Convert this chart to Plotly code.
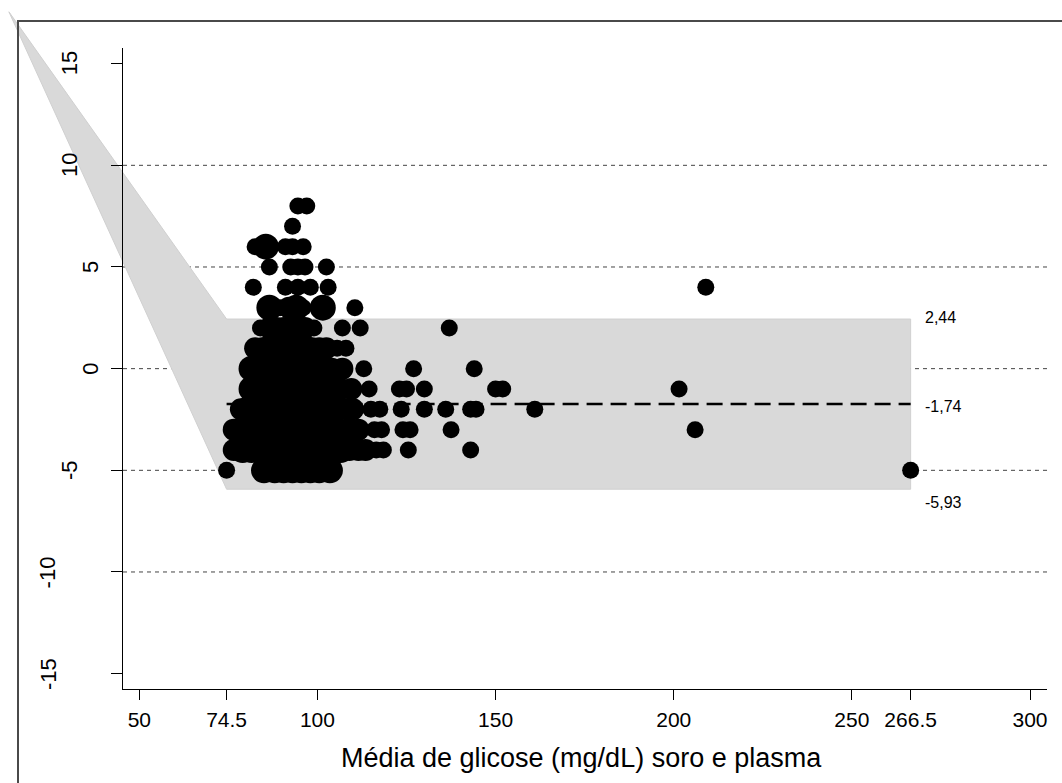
import plotly.graph_objects as go

W, H = 1062, 783

# ---------------- data ----------------
x_ticks = [50, 74.5, 100, 150, 200, 250, 266.5, 300]
x_tick_labels = ["50", "74.5", "100", "150", "200", "250", "266.5", "300"]
y_ticks = [-15, -10, -5, 0, 5, 10, 15]
y_tick_labels = ["-15", "-10", "-5", "0", "5", "10", "15"]
grid_y = [-10, -5, 0, 5, 10]

mean_diff = -1.74
loa_upper = 2.44
loa_lower = -5.93
x_min_mean = 74.5
x_max_mean = 266.5
wedge_apex = (13.4, 17.55)

# mean of serum/plasma glucose, difference, number of coincident observations
media = (
    [94.5, 97]
    + [93]
    + [82.5, 85.5, 91, 93, 96]
    + [86.5, 92.5, 94.5, 96.5, 102.5]
    + [82, 91, 94.5, 98, 103, 209]
    + [86.5, 89.5, 92, 94, 96, 101.5, 110.5]
    + [84, 86.5, 88.5, 90.5, 92.5, 94.5, 96.5, 99, 107, 112, 137]
    + [82.5, 84.5, 86.5, 88.5, 90.5, 92.5, 94.5, 96.5, 98.5, 100.5, 102.5, 105.5, 108]
    + [81.5, 84, 86.5, 89, 91.5, 94, 96.5, 99, 101.5, 104, 107, 113, 127, 144]
    + [81.5, 84, 86.5, 89, 91.5, 94, 96.5, 99, 101.5, 104, 106.5, 109.5, 114.5, 123, 125, 130, 150, 152, 201.5]
    + [78.5, 80.5, 83, 85.5, 88, 90.5, 93, 95.5, 98, 100.5, 103, 105.5, 108, 110, 115, 117.5, 123.5, 130, 136, 143, 144.5, 161]
    + [76.5, 79, 81.5, 84, 86.5, 89, 91.5, 94, 96.5, 99, 101.5, 104, 106.5, 109, 111.5, 116, 118, 124, 126, 137.5, 206]
    + [76.5, 79, 81.5, 84, 86.5, 89, 91.5, 94, 96.5, 99, 101.5, 104, 106.5, 109, 111.5, 113.5, 116.5, 118.5, 125.5, 143]
    + [74.5, 85, 88, 90.5, 93, 95.5, 98, 100.5, 103.5, 266.5]
)
diferenca = (
    [8, 8]
    + [7]
    + [6, 6, 6, 6, 6]
    + [5, 5, 5, 5, 5]
    + [4, 4, 4, 4, 4, 4]
    + [3, 3, 3, 3, 3, 3, 3]
    + [2, 2, 2, 2, 2, 2, 2, 2, 2, 2, 2]
    + [1, 1, 1, 1, 1, 1, 1, 1, 1, 1, 1, 1, 1]
    + [0, 0, 0, 0, 0, 0, 0, 0, 0, 0, 0, 0, 0, 0]
    + [-1, -1, -1, -1, -1, -1, -1, -1, -1, -1, -1, -1, -1, -1, -1, -1, -1, -1, -1]
    + [-2, -2, -2, -2, -2, -2, -2, -2, -2, -2, -2, -2, -2, -2, -2, -2, -2, -2, -2, -2, -2, -2]
    + [-3, -3, -3, -3, -3, -3, -3, -3, -3, -3, -3, -3, -3, -3, -3, -3, -3, -3, -3, -3, -3]
    + [-4, -4, -4, -4, -4, -4, -4, -4, -4, -4, -4, -4, -4, -4, -4, -4, -4, -4, -4, -4]
    + [-5, -5, -5, -5, -5, -5, -5, -5, -5, -5]
)
frequencia = (
    [1, 1]
    + [1]
    + [1, 3, 1, 1, 1]
    + [1, 1, 1, 1, 1]
    + [1, 1, 1, 1, 1, 1]
    + [3, 1, 2, 3, 1, 3, 1]
    + [1, 2, 2, 2, 2, 2, 2, 1, 1, 1, 1]
    + [2, 2, 3, 3, 3, 3, 3, 3, 2, 2, 2, 1, 1]
    + [3, 3, 3, 3, 3, 3, 3, 3, 3, 2, 2, 1, 1, 1]
    + [3, 3, 3, 3, 3, 3, 3, 3, 3, 3, 2, 2, 1, 1, 1, 1, 1, 1, 1]
    + [2, 3, 3, 3, 3, 3, 3, 3, 3, 3, 3, 2, 2, 2, 1, 1, 1, 1, 1, 1, 1, 1]
    + [2, 3, 3, 3, 3, 3, 3, 3, 3, 3, 3, 3, 2, 2, 2, 1, 1, 1, 1, 1, 1]
    + [2, 3, 3, 3, 3, 3, 3, 3, 3, 3, 3, 3, 3, 2, 2, 2, 1, 1, 1, 1]
    + [1, 3, 3, 3, 3, 3, 3, 3, 3, 1]
)

# ---------------- layout geometry ----------------
FONT = "Liberation Sans, Arial, Helvetica, sans-serif"
px_left, px_right, px_top, px_bottom = 123, 1047, 48, 689
x_range = [45.42, 304.77]
y_range = [-15.755, 15.77]
xdom = [px_left / W, px_right / W]
ydom = [(H - px_bottom) / H, (H - px_top) / H]


def full_range(r, d):
    s = (r[1] - r[0]) / (d[1] - d[0])
    return [r[0] - d[0] * s, r[1] + (1 - d[1]) * s]


fig = go.Figure()

# gridlines (drawn below the shaded band)
gx, gy = [], []
for g in grid_y:
    gx += [x_range[0], x_range[1], None]
    gy += [g, g, None]
fig.add_trace(go.Scatter(x=gx, y=gy, mode="lines", xaxis="x", yaxis="y",
                         line=dict(color="#444444", width=1, dash="4px,4px"),
                         hoverinfo="skip", showlegend=False))

# shaded agreement band with the wedge
poly_x = [wedge_apex[0], x_min_mean, x_max_mean, x_max_mean, x_min_mean, wedge_apex[0]]
poly_y = [wedge_apex[1], loa_upper, loa_upper, loa_lower, loa_lower, wedge_apex[1]]
fig.add_trace(go.Scatter(x=poly_x, y=poly_y, mode="lines", fill="toself",
                         fillcolor="rgb(217,217,217)",
                         line=dict(color="rgb(208,208,208)", width=1),
                         xaxis="x", yaxis="y", hoverinfo="skip", showlegend=False))

# points (marker area grows with number of coincident observations)
size_by_n = {1: 17, 2: 22, 3: 26}
sizes = [size_by_n[min(n, 3)] for n in frequencia]
fig.add_trace(go.Scatter(x=media, y=diferenca, mode="markers", xaxis="x", yaxis="y",
                         marker=dict(color="black", size=sizes, line=dict(width=0), opacity=1),
                         hoverinfo="skip", showlegend=False))

# mean difference line
fig.add_trace(go.Scatter(x=[x_min_mean, x_max_mean], y=[mean_diff, mean_diff], mode="lines",
                         xaxis="x2", yaxis="y2",
                         line=dict(color="black", width=2.5, dash="16px,8px"),
                         hoverinfo="skip", showlegend=False))

annotations = []
# rotated y tick labels
for v, t in zip(y_ticks, y_tick_labels):
    annotations.append(dict(xref="paper", yref="y2", x=xdom[0], y=v, text=t,
                            showarrow=False, textangle=-90, xanchor="center", yanchor="middle",
                            xshift=-(32 + 21.3 * (len(t) - 1)),
                            font=dict(family=FONT, size=22, color="black")))
# right-side labels
for v, ys in [(loa_upper, 2), (mean_diff, -2.5), (loa_lower, -13)]:
    annotations.append(dict(xref="x", yref="y", x=x_max_mean, y=v,
                            text=f"{v:.2f}".replace(".", ","), showarrow=False,
                            xanchor="left", yanchor="middle", xshift=12, yshift=ys,
                            font=dict(family=FONT, size=16, color="black")))
# axis title
annotations.append(dict(xref="paper", yref="paper", x=582 / W, y=(H - 758) / H,
                        text="Média de glicose (mg/dL) soro e plasma", showarrow=False,
                        xanchor="center", yanchor="middle",
                        font=dict(family=FONT, size=27, color="black")))

fig.update_layout(
    width=W, height=H,
    margin=dict(l=0, r=0, t=0, b=0),
    paper_bgcolor="white", plot_bgcolor="rgba(0,0,0,0)",
    showlegend=False,
    font=dict(family=FONT, color="black"),
    xaxis=dict(domain=[0, 1], range=full_range(x_range, xdom), visible=False, fixedrange=True),
    yaxis=dict(domain=[0, 1], range=full_range(y_range, ydom), visible=False, fixedrange=True),
    xaxis2=dict(domain=xdom, range=x_range, anchor="y2", showline=True, linecolor="black",
                linewidth=1, ticks="outside", ticklen=10, tickwidth=1, tickcolor="black",
                tickmode="array", tickvals=x_ticks, ticktext=x_tick_labels,
                tickfont=dict(family=FONT, size=21, color="black"), ticklabelstandoff=2,
                showgrid=False, zeroline=False, automargin=False, fixedrange=True),
    yaxis2=dict(domain=ydom, range=y_range, anchor="x2", showline=True, linecolor="black",
                linewidth=1, ticks="outside", ticklen=11, tickwidth=1, tickcolor="black",
                tickmode="array", tickvals=y_ticks, showticklabels=False,
                showgrid=False, zeroline=False, automargin=False, fixedrange=True),
    annotations=annotations,
    shapes=[dict(type="path", xref="paper", yref="paper",
                 path=f"M {18 / W},0 L {18 / W},{(H - 21) / H} L 1,{(H - 21) / H}",
                 line=dict(color="#4a4a4a", width=2))],
)

fig.write_html("out.html", config={"displayModeBar": False})
